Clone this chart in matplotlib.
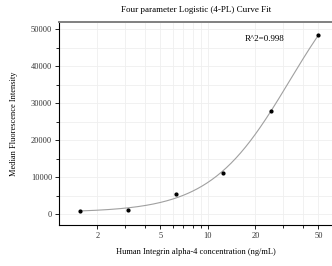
import numpy as np
import matplotlib
matplotlib.use('Agg')
import matplotlib.pyplot as plt
from matplotlib.ticker import FixedLocator, FixedFormatter, NullFormatter, MultipleLocator

# data
conc = [1.5625, 3.125, 6.25, 12.5, 25, 50]
mfi = [1000, 1080, 5400, 11150, 28000, 48300]
x_ticks = [2, 5, 10, 20, 50]
x_minor = [3, 4, 6, 7, 8, 9, 30, 40]
r2_text = 'R^2=0.998'

x = np.array(conc, dtype=float)
y = np.array(mfi, dtype=float)


def fourpl(xx, a, b, c, d):
    return d + (a - d) / (1 + (xx / c) ** b)


# simple 4PL fit: grid over b, c and linear least squares for a, d
best = None
for b in np.linspace(0.5, 4, 141):
    for c in np.logspace(0.5, 3, 200):
        g = 1 / (1 + (x / c) ** b)
        A = np.column_stack([g, 1 - g])
        coef, *_ = np.linalg.lstsq(A, y, rcond=None)
        err = np.sum((A @ coef - y) ** 2)
        if best is None or err < best[0]:
            best = (err, coef[0], b, c, coef[1])
_, a, b, c, d = best

xs = np.logspace(np.log10(x.min()), np.log10(x.max()), 200)

plt.rcParams['font.family'] = ['Liberation Serif', 'DejaVu Serif']

fig = plt.figure(figsize=(3.32, 2.66), dpi=100)
ax = fig.add_axes([0.178, 0.154, 0.822, 0.763])

ax.plot(xs, fourpl(xs, a, b, c, d), color='#a0a0a0', lw=0.8, zorder=2)
ax.scatter(x, y, s=4, color='black', zorder=3)

ax.set_xscale('log')
ax.set_xlim(1.146, 61)
ax.set_ylim(-2900, 51900)

ax.xaxis.set_major_locator(FixedLocator(x_ticks))
ax.xaxis.set_major_formatter(FixedFormatter([str(t) for t in x_ticks]))
ax.xaxis.set_minor_locator(FixedLocator(x_minor))
ax.xaxis.set_minor_formatter(NullFormatter())
ax.yaxis.set_major_locator(MultipleLocator(10000))
ax.yaxis.set_minor_locator(MultipleLocator(5000))

ax.grid(True, which='both', color='#efefef', lw=0.6, zorder=0)
ax.set_axisbelow(True)

ax.tick_params(which='both', direction='out', labelsize=6, width=0.6, pad=2, labelcolor='#333333')
ax.tick_params(which='major', length=3)
ax.tick_params(which='minor', length=2)

for s in ['left', 'bottom']:
    ax.spines[s].set_color('black')
    ax.spines[s].set_linewidth(0.8)
ax.spines['top'].set_color('#808080')
ax.spines['top'].set_linewidth(1.4)
ax.spines['right'].set_visible(False)

ax.text(0.68, 0.915, r2_text, transform=ax.transAxes, fontsize=6.5, va='center')

fig.text(0.59, 0.962, 'Four parameter Logistic (4-PL) Curve Fit', ha='center', va='center', fontsize=6.5)
ax.set_xlabel('Human Integrin alpha-4 concentration (ng/mL)', fontsize=6, labelpad=6)
ax.set_ylabel('Median Fluorescence Intensity', fontsize=6, labelpad=9)

fig.savefig('out.png', dpi=100)
